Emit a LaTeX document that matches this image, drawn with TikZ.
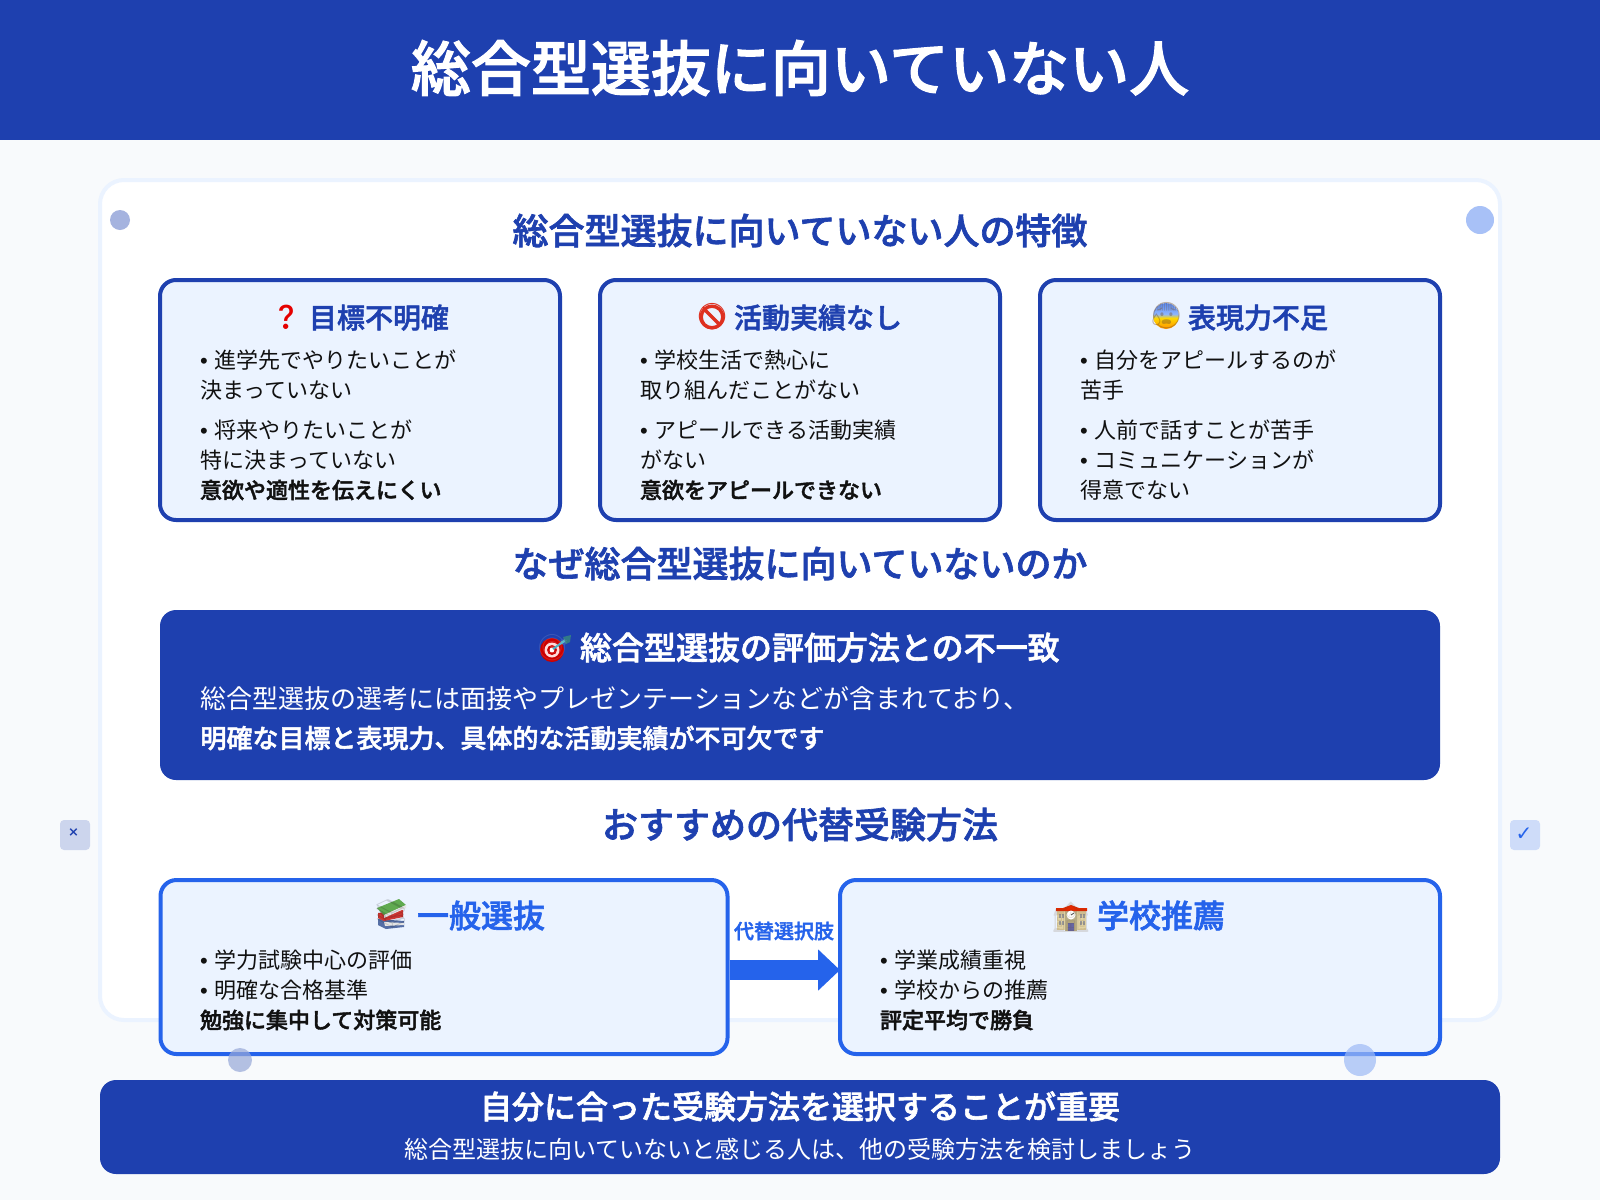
\documentclass[tikz,border=0pt]{standalone}
\usepackage{fontspec}
\setmainfont{Noto Sans CJK JP}[BoldFont={Noto Sans CJK JP Medium},BoldFeatures={FakeBold=1.8}]
\newfontfamily\latinf{Liberation Sans}
\newfontfamily\emojif{Noto Emoji}
\newfontfamily\symf{DejaVu Sans}
\usetikzlibrary{arrows.meta}
\definecolor{navy}{HTML}{1E40AF}
\definecolor{brt}{HTML}{2563EB}
\definecolor{pale}{HTML}{EBF3FF}
\definecolor{cardedge}{HTML}{EBF3FF}
\definecolor{page}{HTML}{F8FAFC}
\definecolor{ink}{HTML}{111111}
\definecolor{dotnavy}{RGB}{151,168,216}
\definecolor{dotbrt}{RGB}{157,186,246}
\definecolor{emored}{RGB}{222,48,32}
\definecolor{emotan}{RGB}{226,212,165}
\definecolor{emoteal}{RGB}{70,175,195}
\definecolor{bookgreen}{RGB}{96,170,80}
\definecolor{bookred}{RGB}{205,55,50}
\definecolor{bookblue}{RGB}{85,110,165}
\pgfdeclareverticalshading{scared}{100bp}{color(0bp)=(orange!85!yellow); color(25bp)=(orange!85!yellow); color(46bp)=(yellow!70!orange); color(54bp)=(cyan!35!blue!45!white); color(75bp)=(brt!75!white); color(100bp)=(brt!75!white)}
\newcommand{\bul}{{\latinf•\ \hspace{1pt}}}
\newcommand{\fs}[1]{\fontsize{#1pt}{#1pt}\selectfont}
\tikzset{
  x=1pt,y=-1pt,
  txt/.style={inner sep=0pt,outer sep=0pt,text depth=0pt},
  t60/.style={txt,text height=45.6pt,font=\fs{60}\bfseries},
  t36/.style={txt,text height=27.4pt,font=\fs{36}\bfseries},
  t32/.style={txt,text height=24.3pt,font=\fs{32}\bfseries},
  t28/.style={txt,text height=21.3pt,font=\fs{28}\bfseries},
  t26/.style={txt,text height=19.8pt,font=\fs{26}},
  t26b/.style={txt,text height=19.8pt,font=\fs{26}\bfseries},
  t24/.style={txt,text height=18.2pt,font=\fs{24}},
  t22/.style={txt,text height=16.7pt,font=\fs{22}},
  t22b/.style={txt,text height=16.7pt,font=\fs{22}\bfseries},
  t20b/.style={txt,text height=15.2pt,font=\fs{20}\bfseries},
  bodyl/.style={t22,anchor=west,text=ink},
  bodyb/.style={t22b,anchor=west,text=ink},
  sect/.style={t36,anchor=center,text=navy},
  ctitle/.style={t28,anchor=west,text=navy},
  btitle/.style={t32,anchor=west,text=brt},
  navybox/.style={draw=navy,line width=4pt,fill=pale,rounded corners=16pt,minimum width=400pt,minimum height=240pt,inner sep=0pt},
  brtbox/.style={draw=brt,line width=4pt,fill=pale,rounded corners=16pt,minimum height=174pt,inner sep=0pt},
  solid/.style={fill=navy,rounded corners=16pt,inner sep=0pt},
  dot/.style={circle,inner sep=0pt},
  tag/.style={rounded corners=4pt,minimum width=30pt,minimum height=30pt,inner sep=0pt},
  emo/.style={inner sep=0pt,anchor=center,font=\emojif\fs{26}},
}
\begin{document}
\begin{tikzpicture}
\useasboundingbox (0,0) rectangle (1600,1200);
\node[fill=page,minimum width=1600pt,minimum height=1200pt,inner sep=0pt] (bg) at (800,600) {};
\node[fill=navy,minimum width=1600pt,minimum height=140pt,inner sep=0pt] (header) at (800,70) {};
\node[t60,text=white] (title) at (800,68) {総合型選抜に向いていない人};
% card
\node[draw=cardedge,line width=4pt,fill=white,rounded corners=24pt,minimum width=1400pt,minimum height=840pt,inner sep=0pt] (card) at (800,600) {};
\node[dot,fill=navy!40!white,minimum size=20pt] (d1) at (120,220) {};
\node[dot,fill=brt!40!white,minimum size=28pt] (d2) at (1480,220) {};
\node[tag,fill=navy!20!page] (t1) at (75,835) {};
\node[inner sep=0pt,text=navy,font=\symf\fs{13}\bfseries] (t1x) at (73.5,833) {×};
\node[tag,fill=brt!20!page] (t2) at (1525,835) {};
\node[inner sep=0pt,text=brt,font=\symf\fs{20}] (t2x) at (1524,834) {✓};
% section 1
\node[sect] (s1) at (800,230.5) {総合型選抜に向いていない人の特徴};
\node[navybox] (b1) at (360,400) {};
\node[navybox] (b2) at (800,400) {};
\node[navybox] (b3) at (1240,400) {};
\node[emo,text=red!90!black,font=\emojif\bfseries\fs{24}] (e1) at (286,317) {❓};
\node[ctitle] (b1t) at (309,317.5) {目標不明確};
\node[bodyl] (b1a) at (200,360) {\bul 進学先でやりたいことが};
\node[bodyl] (b1b) at (200,390) {決まっていない};
\node[bodyl] (b1c) at (200,430) {\bul 将来やりたいことが};
\node[bodyl] (b1d) at (200,460) {特に決まっていない};
\node[bodyb] (b1e) at (200,490) {意欲や適性を伝えにくい};
\draw[emored,line width=3.4pt] (712,317) circle (10.8);
\draw[emored,line width=3.4pt] (704.5,309.5) -- (719.5,324.5);
\node[emo,text=emored] (e2) at (712,317) {🚫};
\node[ctitle] (b2t) at (734,317.5) {活動実績なし};
\node[bodyl] (b2a) at (640,360) {\bul 学校生活で熱心に};
\node[bodyl] (b2b) at (640,390) {取り組んだことがない};
\node[bodyl] (b2c) at (640,430) {\bul アピールできる活動実績};
\node[bodyl] (b2d) at (640,460) {がない};
\node[bodyb] (b2e) at (640,490) {意欲をアピールできない};
\shade[shading=scared] (1166,316) circle (13);
\node[emo,text=brown!60!black,opacity=.4] (e3) at (1166,316) {😰};
\node[ctitle] (b3t) at (1188,317.5) {表現力不足};
\node[bodyl] (b3a) at (1080,360) {\bul 自分をアピールするのが};
\node[bodyl] (b3b) at (1080,390) {苦手};
\node[bodyl] (b3c) at (1080,430) {\bul 人前で話すことが苦手};
\node[bodyl] (b3d) at (1080,460) {\bul コミュニケーションが};
\node[bodyl] (b3e) at (1080,490) {得意でない};
% section 2
\node[sect] (s2) at (800,563.5) {なぜ総合型選抜に向いていないのか};
\node[solid,minimum width=1280pt,minimum height=170pt] (why) at (800,695) {};
\draw[emoteal,line width=2.2pt] (553,648) -- (566,640);
\fill[emoteal!70!black] (563,637) -- (571,635) -- (570,642) -- (566,644) -- cycle;
\fill[red!80!black] (552,650) circle (12);
\fill[white!85!red] (552,650) circle (7.5);
\fill[red!80!black] (552,650) circle (5);
\fill[white] (552,650) circle (2.4);
\draw[emoteal,line width=2pt] (553,649) -- (564,641);
\node[emo,text=white,opacity=.12,font=\emojif\fs{26}] (e4) at (553,648) {🎯};
\node[t32,anchor=west,text=white] (whyt) at (580,647.5) {総合型選抜の評価方法との不一致};
\node[t26,anchor=west,text=white] (whya) at (200.5,698.5) {総合型選抜の選考には面接やプレゼンテーションなどが含まれており、};
\node[t26b,anchor=west,text=white] (whyb) at (200.5,738) {明確な目標と表現力、具体的な活動実績が不可欠です};
% section 3
\node[sect] (s3) at (800,824.5) {おすすめの代替受験方法};
\node[brtbox,minimum width=567pt] (g) at (444,967) {};
\node[brtbox,minimum width=600pt] (k) at (1140,967) {};
\draw[brt,line width=20pt,-{Triangle[length=22pt,width=40pt]}] ([yshift=-3pt]g.east) -- ([yshift=-3pt,xshift=2pt]k.west);
\node[t20b,text=brt] (alt) at (784,931) {代替選択肢};
\fill[bookblue] (378,919) -- (404,921) -- (404,927) -- (386,929) -- (378,925) -- cycle;
\fill[white!90!black] (384,922) -- (404,923) -- (404,925) -- (385,926) -- cycle;
\fill[bookred] (378,913) -- (403,910) -- (403,917) -- (384,921) -- (378,918) -- cycle;
\fill[bookgreen] (377,908) -- (399,899) -- (406,905) -- (384,915) -- cycle;
\fill[white!90!black] (384,915) -- (406,905) -- (406,908) -- (384,918) -- cycle;
\node[emo,text=black,opacity=.15,font=\emojif\fs{28}] (e5) at (391,914) {📚};
\node[btitle] (gt) at (417,915.5) {一般選抜};
\node[bodyl] (ga) at (200,960) {\bul 学力試験中心の評価};
\node[bodyl] (gb) at (200,990) {\bul 明確な合格基準};
\node[bodyb] (gc) at (200,1020) {勉強に集中して対策可能};
\fill[emotan] (1057,911) rectangle (1086,930);
\fill[emotan!80!black] (1065,908) rectangle (1077,931);
\fill[red!65!orange!90!black] (1056,908) -- (1063,908) -- (1071,905) -- (1079,908) -- (1087,908) -- (1087,911) -- (1056,911) -- cycle;
\fill[white] (1071,915) circle (4.5);
\draw[black!70,line width=.8pt] (1071,915) -- (1074,913);
\fill[blue!40!black!60!white] (1068,923) rectangle (1074,931);
\foreach \wx in {1059,1062,1080,1083}{\fill[black!40] (\wx,914) rectangle +(2,4); \fill[black!40] (\wx,921) rectangle +(2,4);}
\node[emo,text=brown!50!black,opacity=.15,font=\emojif\fs{30}] (e6) at (1071,917) {🏫};
\node[btitle] (kt) at (1097,915.5) {学校推薦};
\node[bodyl] (ka) at (880,960) {\bul 学業成績重視};
\node[bodyl] (kb) at (880,990) {\bul 学校からの推薦};
\node[bodyb] (kc) at (880,1020) {評定平均で勝負};
\node[dot,fill=dotnavy,fill opacity=.7,minimum size=24pt] (d3) at (240,1060) {};
\node[dot,fill=dotbrt,fill opacity=.7,minimum size=32pt] (d4) at (1360,1060) {};
% footer
\node[solid,minimum width=1400pt,minimum height=94pt] (foot) at (800,1127) {};
\node[t32,text=white] (foota) at (800,1106.5) {自分に合った受験方法を選択することが重要};
\node[t24,text=white] (footb) at (800,1149) {総合型選抜に向いていないと感じる人は、他の受験方法を検討しましょう};
\end{tikzpicture}
\end{document}
